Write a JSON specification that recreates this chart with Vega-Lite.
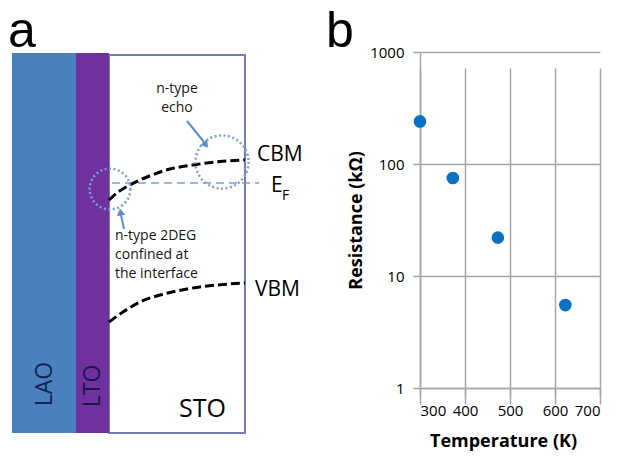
{
  "$schema": "https://vega.github.io/schema/vega-lite/v6.json",
  "width": 621,
  "height": 456,
  "autosize": "none",
  "padding": 0,
  "config": {"view": {"stroke": null}, "font": "Open Sans"},
  "datasets": {
    "box": [{"x": 109, "x2": 245, "y": 55, "y2": 433}],
    "slabs": [
      {"material": "LAO", "x": 12, "x2": 76, "y": 53, "y2": 433},
      {"material": "LTO", "x": 76, "x2": 109, "y": 53, "y2": 433}
    ],
    "bands": [
      {"band": "CBM", "x": 109, "y": 200},
      {"band": "CBM", "x": 118, "y": 192},
      {"band": "CBM", "x": 127, "y": 186.5},
      {"band": "CBM", "x": 147, "y": 177},
      {"band": "CBM", "x": 170, "y": 169},
      {"band": "CBM", "x": 193, "y": 165},
      {"band": "CBM", "x": 220, "y": 161.5},
      {"band": "CBM", "x": 245, "y": 160},
      {"band": "VBM", "x": 109, "y": 322},
      {"band": "VBM", "x": 123, "y": 312},
      {"band": "VBM", "x": 140, "y": 302},
      {"band": "VBM", "x": 160, "y": 295},
      {"band": "VBM", "x": 187, "y": 289},
      {"band": "VBM", "x": 217, "y": 285},
      {"band": "VBM", "x": 245, "y": 283}
    ],
    "fermi": [{"x": 112, "x2": 259, "y": 183}],
    "circleInterface": [{"x": 110, "y": 189}],
    "circleEcho": [{"x": 222, "y": 162}],
    "arrowEcho": [{"x": 187, "y": 121, "x2": 204, "y2": 142}],
    "headEcho": [{"x": 206, "y": 145}],
    "arrowInterface": [{"x": 124, "y": 229, "x2": 121, "y2": 215}],
    "headInterface": [{"x": 120.5, "y": 212}],
    "texts": [
      {"label": "a", "x": 8, "y": 47, "kind": "panel"},
      {"label": "b", "x": 326, "y": 47, "kind": "panel"},
      {"label": "CBM", "x": 257, "y": 155, "kind": "band"},
      {"label": "VBM", "x": 255, "y": 290, "kind": "band"},
      {"label": "E", "x": 271, "y": 186, "kind": "band"},
      {"label": "F", "x": 282, "y": 196, "kind": "sub"},
      {"label": "n-type", "x": 177, "y": 89, "kind": "noteCenter"},
      {"label": "echo", "x": 177, "y": 108, "kind": "noteCenter"},
      {"label": "n-type 2DEG", "x": 115, "y": 236, "kind": "noteLeft"},
      {"label": "confined at", "x": 115, "y": 255, "kind": "noteLeft"},
      {"label": "the interface", "x": 115, "y": 274, "kind": "noteLeft"},
      {"label": "STO", "x": 179, "y": 409, "kind": "sto"},
      {"label": "LAO", "x": 45, "y": 384, "kind": "verticalLAO"},
      {"label": "LTO", "x": 92.5, "y": 386, "kind": "verticalLTO"}
    ],
    "resistance": [
      {"temperature": 300, "resistance": 240},
      {"temperature": 373, "resistance": 75},
      {"temperature": 473, "resistance": 22},
      {"temperature": 623, "resistance": 5.5}
    ]
  },
  "layer": [
    {
      "encoding": {
        "x": {"field": "x", "type": "quantitative", "scale": {"domain": [0, 621], "nice": false, "zero": false}, "axis": null},
        "y": {"field": "y", "type": "quantitative", "scale": {"domain": [0, 456], "reverse": true, "nice": false, "zero": false}, "axis": null}
      },
      "layer": [
        {
          "data": {"name": "box"},
          "mark": {"type": "rect", "fill": "white", "stroke": "#6f7fb6", "strokeWidth": 2},
          "encoding": {"x2": {"field": "x2"}, "y2": {"field": "y2"}}
        },
        {
          "data": {"name": "slabs"},
          "mark": {"type": "rect"},
          "encoding": {
            "x2": {"field": "x2"},
            "y2": {"field": "y2"},
            "color": {"field": "material", "type": "nominal", "scale": {"domain": ["LAO", "LTO"], "range": ["#4b80bf", "#7030a0"]}, "legend": null}
          }
        },
        {
          "data": {"name": "fermi"},
          "mark": {"type": "rule", "color": "#7f9dc9", "strokeWidth": 1.3, "strokeDash": [8, 5]},
          "encoding": {"x2": {"field": "x2"}}
        },
        {
          "data": {"name": "bands"},
          "mark": {"type": "line", "color": "black", "strokeWidth": 3, "strokeDash": [9, 4], "interpolate": "monotone"},
          "encoding": {"detail": {"field": "band", "type": "nominal"}}
        },
        {
          "data": {"name": "circleInterface"},
          "mark": {"type": "point", "shape": "circle", "size": 1662, "filled": false, "stroke": "#7c9fcc", "strokeWidth": 2.5, "strokeDash": [2, 2.5], "opacity": 1}
        },
        {
          "data": {"name": "circleEcho"},
          "mark": {"type": "point", "shape": "circle", "size": 2827, "filled": false, "stroke": "#7c9fcc", "strokeWidth": 2.5, "strokeDash": [2, 2.5], "opacity": 1}
        },
        {
          "data": {"name": "arrowEcho"},
          "mark": {"type": "rule", "color": "#5b8dcb", "strokeWidth": 2},
          "encoding": {"x2": {"field": "x2"}, "y2": {"field": "y2"}}
        },
        {
          "data": {"name": "headEcho"},
          "mark": {"type": "point", "shape": "triangle-up", "filled": true, "color": "#5b8dcb", "size": 70, "angle": 140, "opacity": 1}
        },
        {
          "data": {"name": "arrowInterface"},
          "mark": {"type": "rule", "color": "#5b8dcb", "strokeWidth": 2},
          "encoding": {"x2": {"field": "x2"}, "y2": {"field": "y2"}}
        },
        {
          "data": {"name": "headInterface"},
          "mark": {"type": "point", "shape": "triangle-up", "filled": true, "color": "#5b8dcb", "size": 70, "angle": 350, "opacity": 1}
        },
        {
          "data": {"name": "texts"},
          "transform": [{"filter": "datum.kind === 'panel'"}],
          "mark": {"type": "text", "font": "Liberation Sans", "fontSize": 50, "align": "left", "baseline": "alphabetic", "color": "black"},
          "encoding": {"text": {"field": "label"}}
        },
        {
          "data": {"name": "texts"},
          "transform": [{"filter": "datum.kind === 'band'"}],
          "mark": {"type": "text", "fontSize": 21, "align": "left", "baseline": "middle", "color": "black"},
          "encoding": {"text": {"field": "label"}}
        },
        {
          "data": {"name": "texts"},
          "transform": [{"filter": "datum.kind === 'sub'"}],
          "mark": {"type": "text", "fontSize": 14, "align": "left", "baseline": "middle", "color": "black"},
          "encoding": {"text": {"field": "label"}}
        },
        {
          "data": {"name": "texts"},
          "transform": [{"filter": "datum.kind === 'noteCenter'"}],
          "mark": {"type": "text", "fontSize": 14, "align": "center", "baseline": "middle", "color": "#151515"},
          "encoding": {"text": {"field": "label"}}
        },
        {
          "data": {"name": "texts"},
          "transform": [{"filter": "datum.kind === 'noteLeft'"}],
          "mark": {"type": "text", "fontSize": 14, "align": "left", "baseline": "middle", "color": "#151515"},
          "encoding": {"text": {"field": "label"}}
        },
        {
          "data": {"name": "texts"},
          "transform": [{"filter": "datum.kind === 'sto'"}],
          "mark": {"type": "text", "fontSize": 25, "align": "left", "baseline": "middle", "color": "black"},
          "encoding": {"text": {"field": "label"}}
        },
        {
          "data": {"name": "texts"},
          "transform": [{"filter": "datum.kind === 'verticalLAO'"}],
          "mark": {"type": "text", "fontSize": 23, "align": "center", "baseline": "middle", "angle": 270, "color": "#0f2452"},
          "encoding": {"text": {"field": "label"}}
        },
        {
          "data": {"name": "texts"},
          "transform": [{"filter": "datum.kind === 'verticalLTO'"}],
          "mark": {"type": "text", "fontSize": 23, "align": "center", "baseline": "middle", "angle": 270, "color": "#1c1545"},
          "encoding": {"text": {"field": "label"}}
        }
      ]
    },
    {
      "layer": [
        {
          "data": {"name": "resistance"},
          "mark": {"type": "point", "shape": "circle", "filled": true, "size": 160, "color": "#0a70c0", "opacity": 1},
          "encoding": {
            "x": {
              "field": "temperature", "type": "quantitative",
              "scale": {"domain": [300, 700], "range": [420, 600], "nice": false, "zero": false},
              "axis": {
                "orient": "bottom", "offset": -68, "values": [300, 400, 500, 600, 700],
                "grid": true, "gridColor": "#a6a6a6", "gridWidth": 1.5,
                "domainColor": "#a6a6a6", "domainWidth": 1.5,
                "tickColor": "#a6a6a6", "tickWidth": 1.5, "tickSize": 7,
                "labelFontSize": 15, "labelColor": "#000000", "labelPadding": 8, "labelFont": "Open Sans",
                "title": "Temperature (K)", "titleFontSize": 18, "titleFontWeight": "bold", "titleColor": "#000000",
                "titlePadding": 14, "titleX": 503, "titleFont": "Open Sans"
              }
            },
            "y": {
              "field": "resistance", "type": "quantitative",
              "scale": {"type": "log", "domain": [1, 1000], "range": [388, 52], "nice": false},
              "axis": {
                "orient": "left", "offset": -420, "values": [1, 10, 100, 1000], "format": "d",
                "grid": true, "gridColor": "#a6a6a6", "gridWidth": 1.5,
                "domainColor": "#a6a6a6", "domainWidth": 1.5,
                "tickColor": "#a6a6a6", "tickWidth": 1.5, "tickSize": 7,
                "labelFontSize": 15, "labelColor": "#000000", "labelPadding": 9, "labelFont": "Open Sans",
                "title": "Resistance (kΩ)", "titleFontSize": 18, "titleFontWeight": "bold", "titleColor": "#000000",
                "titlePadding": 4, "titleFont": "Open Sans"
              }
            }
          }
        }
      ]
    }
  ],
  "resolve": {"scale": {"x": "independent", "y": "independent", "color": "independent"}}
}
